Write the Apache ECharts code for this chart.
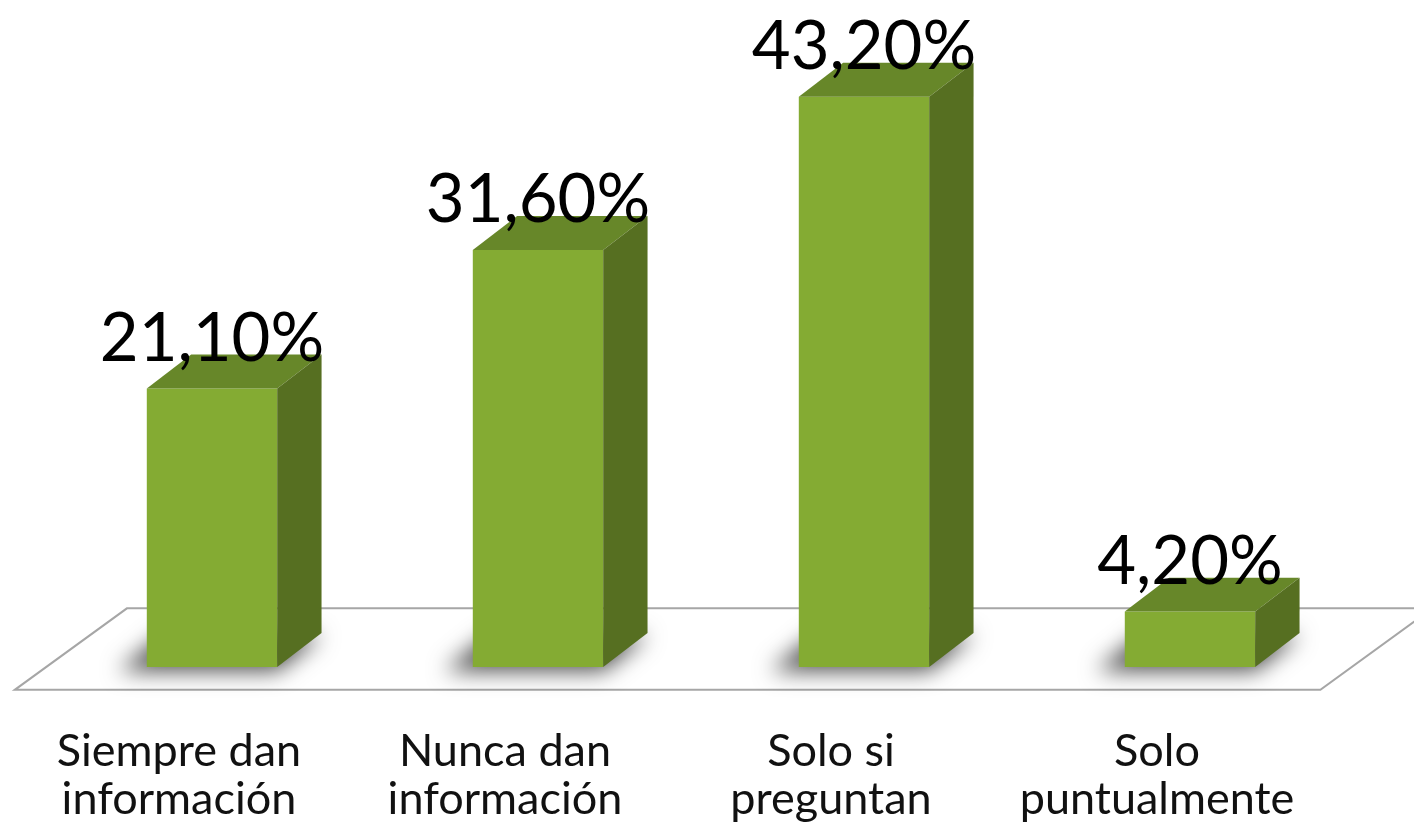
<!DOCTYPE html>
<html>
<head>
<meta charset="utf-8">
<script src="https://cdn.jsdelivr.net/npm/echarts@6/dist/echarts.min.js"></script>
<style>
  html, body { margin: 0; padding: 0; background: #fff; }
  #chart { width: 1414px; height: 831px; }
</style>
</head>
<body>
<div id="chart"></div>
<script>
const categories = ['Siempre dan\ninformación', 'Nunca dan\ninformación', 'Solo si\npreguntan', 'Solo\npuntualmente'];
const values = [21.1, 31.6, 43.2, 4.2];

const fmt = (v) => v.toFixed(2).replace('.', ',') + '%';

const chart = echarts.init(document.getElementById('chart'));

// floor plane under the bars, built from the grid rect
const renderFloor = (params, api) => {
  const cs = params.coordSys;
  const band = cs.width / categories.length;
  const base = cs.y + cs.height;
  const fy = base + 0.07 * band;
  const by = base - 0.18 * band;
  const fl = cs.x - 0.105 * band;
  const fr = cs.x + cs.width - 0.1 * band;
  const ddx = 0.344 * band;
  return {
    type: 'polygon',
    shape: { points: [[fl, fy], [fr, fy], [fr + ddx, by], [fl + ddx, by]] },
    style: { fill: '#fff', stroke: '#a6a6a6', lineWidth: 2 },
  };
};

// 3d-looking bar: front, top, side faces
const renderBar = (params, api) => {
  const idx = api.value(0);
  const val = api.value(1);
  const base = api.coord([idx, 0]);
  const top = api.coord([idx, val]);
  const band = api.size([1, 0])[0];
  const w = band * 0.4;
  const dx = w * 0.34;
  const dy = -w * 0.26;
  const x = base[0] - w / 2;
  const off = 3000;

  return {
    type: 'group',
    children: [
      {
        // soft shadow on the floor (shape drawn off screen, only its shadow shows)
        type: 'polygon',
        shape: {
          points: [
            [x - 28 - off, base[1] + 2], [x + w - off, base[1] + 2],
            [x + w + dx - off, base[1] + dy], [x + dx - 28 - off, base[1] + dy],
          ],
        },
        style: { fill: '#000', shadowBlur: 22, shadowColor: 'rgba(0,0,0,0.7)', shadowOffsetX: off, shadowOffsetY: 2 },
      },
      {
        type: 'rect',
        shape: { x: x, y: top[1], width: w, height: base[1] - top[1] },
        style: { fill: '#84ab33' },
      },
      {
        type: 'polygon',
        shape: { points: [[x, top[1]], [x + w, top[1]], [x + w + dx, top[1] + dy], [x + dx, top[1] + dy]] },
        style: { fill: '#678729' },
      },
      {
        type: 'polygon',
        shape: { points: [[x + w, top[1]], [x + w + dx, top[1] + dy], [x + w + dx, base[1] + dy], [x + w, base[1]]] },
        style: { fill: '#566f21' },
      },
      {
        type: 'text',
        style: {
          text: fmt(val),
          x: base[0],
          y: top[1] - 16,
          align: 'center',
          verticalAlign: 'bottom',
          fontSize: 67,
          fontFamily: 'Lato',
          fill: '#000',
        },
      },
    ],
  };
};

chart.setOption({
  animation: false,
  grid: { left: 49, right: 61, top: 7, bottom: 164 },
  xAxis: {
    type: 'category',
    data: categories,
    axisLine: { show: false },
    axisTick: { show: false },
    axisLabel: {
      interval: 0,
      margin: 60,
      fontSize: 45,
      lineHeight: 48,
      fontFamily: 'Lato',
      color: '#111',
      padding: [0, 66, 0, 0],
    },
  },
  yAxis: {
    type: 'value',
    min: 0,
    max: 50,
    show: false,
  },
  series: [
    {
      type: 'custom',
      name: 'floor',
      z: 1,
      silent: true,
      data: [[0, 0]],
      renderItem: renderFloor,
    },
    {
      type: 'custom',
      name: 'bars',
      z: 2,
      data: values.map((v, i) => [i, v]),
      renderItem: renderBar,
    },
  ],
});
</script>
</body>
</html>
